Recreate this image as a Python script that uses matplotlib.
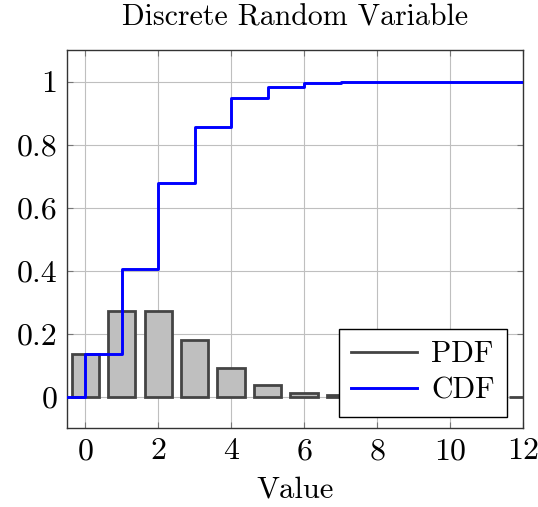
import numpy as np
import matplotlib
matplotlib.use("Agg")
import matplotlib.pyplot as plt
from matplotlib.lines import Line2D

plt.rcParams['font.family'] = 'serif'
plt.rcParams['font.serif'] = ['cmr10']
plt.rcParams['mathtext.fontset'] = 'cm'
plt.rcParams['axes.formatter.use_mathtext'] = True
plt.rcParams['font.size'] = 22

# Values
values = [0, 1, 2, 3, 4, 5, 6, 7, 8, 9, 10, 11, 12]
pdf = [0.135, 0.271, 0.271, 0.180, 0.090, 0.036, 0.012, 0.0034, 0.0009, 0.0002, 0.00004, 0.00001, 0.0]
cdf = [0.135, 0.406, 0.677, 0.857, 0.947, 0.983, 0.995, 0.999, 1.0, 1.0, 1.0, 1.0, 1.0]

fig = plt.figure(figsize=(5.38, 5.07), dpi=100)
ax = fig.add_axes([67/538, 1-428/507, (523-67)/538, (428-50)/507])

ax.bar(values, pdf, width=0.75, color='#bfbfbf', edgecolor='#444444', linewidth=2, zorder=3)
ax.step([-1] + values, [0] + cdf, where='post', color='blue', linewidth=2.1, zorder=4)

ax.set_xlim(-0.5, 12)
ax.set_ylim(-0.1, 1.1)
ax.set_xticks(np.arange(0, 13, 2))
ax.set_yticks([0, 0.2, 0.4, 0.6, 0.8, 1])
ax.set_yticklabels(['0', '0.2', '0.4', '0.6', '0.8', '1'])
ax.grid(True, color='#bfbfbf', linewidth=0.8, zorder=0)
ax.set_axisbelow(True)
ax.tick_params(direction='in', top=True, right=True, length=4, color='#777777', pad=7,
               labelsize=23)
for s in ax.spines.values():
    s.set_linewidth(1.0)
    s.set_color('#333333')

ax.set_xlabel('Value', labelpad=8, fontsize=22)
ax.set_title('Discrete Random Variable', pad=18, fontsize=21.5)

handles = [Line2D([0], [0], color='#444444', lw=2),
           Line2D([0], [0], color='blue', lw=2.1)]
leg = ax.legend(handles, ['PDF', 'CDF'], loc='lower right', bbox_to_anchor=(0.965, 0.03),
                fancybox=False, edgecolor='black', framealpha=1, borderaxespad=0,
                handlelength=2.2, fontsize=21.5, borderpad=0.4, labelspacing=0.3,
                handletextpad=0.5)
leg.get_frame().set_linewidth(1.0)

fig.savefig('out.png', dpi=100)
